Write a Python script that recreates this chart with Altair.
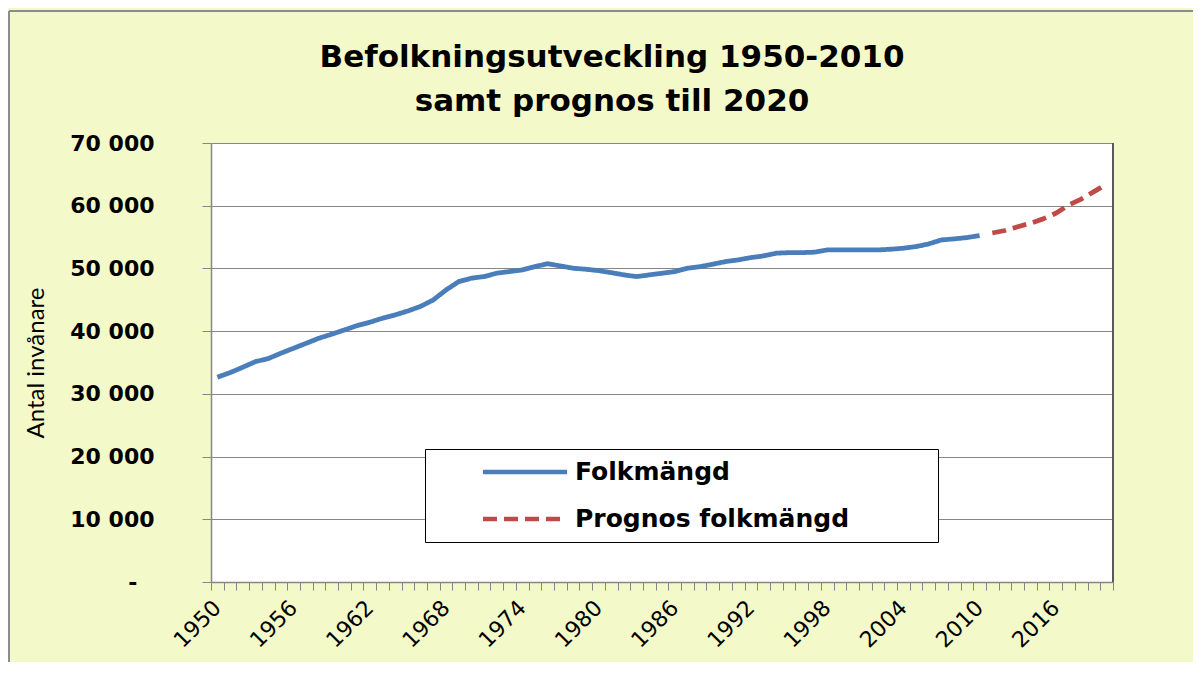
import altair as alt
import pandas as pd

# ---- data ----
hist_years = list(range(1950, 2011))
hist_values = [
    32650, 33380, 34240, 35140, 35620, 36480, 37270, 38070, 38870, 39510,
    40190, 40880, 41420, 42060, 42590, 43220, 43950, 44980, 46570, 47900,
    48440, 48700, 49240, 49500, 49760, 50300, 50750, 50400, 50030, 49870,
    49650, 49330, 48970, 48700, 48970, 49230, 49500, 50030, 50290, 50670,
    51090, 51360, 51730, 52000, 52430, 52520, 52520, 52590, 52950, 52950,
    52950, 52950, 52950, 53060, 53220, 53480, 53910, 54550, 54710, 54920,
    55240,
]
prog_years = list(range(2011, 2021))
prog_values = [55650, 56050, 56650, 57200, 57900, 58800, 60100, 61050, 62250, 63450]

series_names = ["Folkmängd", "Prognos folkmängd"]
series_colors = ["#4A7EBB", "#BE4B48"]
y_ticks = [0, 10000, 20000, 30000, 40000, 50000, 60000, 70000]
x_first, x_last, x_label_step = 1950, 2020, 6
title_lines = ["Befolkningsutveckling 1950-2010", "samt prognos till 2020"]
y_title = "Antal invånare"

df = pd.DataFrame({
    "year": hist_years + prog_years,
    "value": hist_values + prog_values,
    "series": [series_names[0]] * len(hist_years) + [series_names[1]] * len(prog_years),
})

W, H = 902, 439
PAD = {"left": 203, "top": 135, "right": 80, "bottom": 80}
GRID = "#868686"
BG = "#F4F9CA"

boundaries = [x_first - 0.5 + k for k in range(x_last - x_first + 2)]

BLANK = "\u2800"
legend = alt.Legend(
    orient="none", legendX=214, legendY=306, title=None, direction="vertical",
    padding=10, strokeColor="black", fillColor="white", cornerRadius=0,
    symbolType="M-4,0L4,0", symbolSize=441, symbolStrokeWidth=4.5,
    symbolFillColor="transparent", symbolOffset=77, labelOffset=37,
    labelFont="DejaVu Sans", labelFontSize=25, labelFontWeight="bold",
    labelColor="black", rowPadding=21, labelLimit=0,
    labelExpr="datum.label + '" + BLANK * 4 + "'",
)

x_enc = alt.X(
    "year:Q",
    scale=alt.Scale(domain=[x_first - 0.5, x_last + 0.5], nice=False, zero=False),
    axis=alt.Axis(
        values=boundaries, title=None, grid=False,
        labelExpr=f"(datum.value + 0.5 - {x_first}) % {x_label_step} == 0 ? toString(datum.value + 0.5) : ''",
        labelAngle=315, labelAlign="right", labelBaseline="middle",
        labelOffset=6, labelPadding=14, labelFont="DejaVu Sans", labelFontSize=22,
        labelColor="black", labelFlush=False, labelOverlap=False,
        tickSize=8, tickColor=GRID, domainColor=GRID, domainWidth=1.5,
    ),
)
y_enc = alt.Y(
    "value:Q",
    scale=alt.Scale(domain=[0, 70000], nice=False),
    axis=alt.Axis(
        values=y_ticks, title=y_title, titleFont="Lato", titleFontSize=24,
        titleFontWeight="normal", titleColor="black", titleX=-168, titleY=H / 2,
        titleAngle=270, titleAlign="center", titleBaseline="alphabetic",
        labelExpr="datum.value == 0 ? '-" + BLANK + "' : replace(format(datum.value, ',d'), ',', ' ')",
        labelFont="DejaVu Sans", labelFontSize=22, labelFontWeight="bold",
        labelColor="black", labelPadding=48, tickSize=9, tickColor=GRID,
        domainColor=GRID, domainWidth=1.5, gridColor=GRID, gridWidth=1,
    ),
)

lines = alt.Chart(df).mark_line(strokeWidth=4.8, strokeCap="butt", strokeJoin="round").encode(
    x=x_enc,
    y=y_enc,
    color=alt.Color("series:N", scale=alt.Scale(domain=series_names, range=series_colors), legend=legend),
    strokeDash=alt.StrokeDash("series:N", scale=alt.Scale(domain=series_names, range=[[1, 0], [14, 7]]), legend=legend),
)

one = pd.DataFrame({"k": [0]})
right_edge = alt.Chart(one).mark_rule(color="#595959", strokeWidth=2).encode(
    x=alt.value(W), y=alt.value(0), y2=alt.value(H)
)
frame_left = alt.Chart(one).mark_rule(color="#8C8C8C", strokeWidth=2).encode(
    x=alt.value(-PAD["left"] + 1), y=alt.value(-PAD["top"] + 3), y2=alt.value(H + PAD["bottom"])
)
frame_top = alt.Chart(one).mark_rule(color="#8C8C8C", strokeWidth=2).encode(
    x=alt.value(-PAD["left"] + 1), x2=alt.value(W + PAD["right"]), y=alt.value(-PAD["top"] + 3)
)

chart = alt.layer(lines, right_edge, frame_left, frame_top).properties(
    width=W, height=H,
    title=alt.Title(
        text=title_lines, font="DejaVu Sans", fontSize=31, fontWeight="bold",
        color="black", anchor="middle", dx=-50, offset=28, dy=136, lineHeight=44,
    ),
    autosize=alt.AutoSizeParams(type="none"),
    padding=PAD,
    background=BG,
).configure_view(stroke=None, fill="white")

chart.save("out.html", embed_options={"renderer": "svg", "actions": False})
